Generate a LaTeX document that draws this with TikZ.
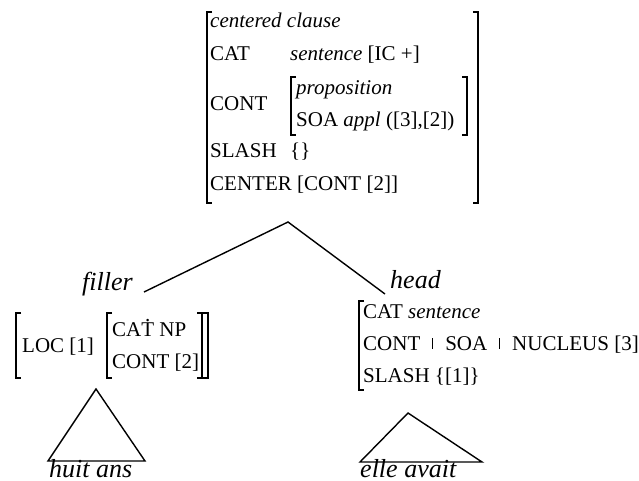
\documentclass[tikz,border=0pt]{standalone}
\usepackage{fontspec}
\setmainfont{Liberation Serif}
\newcommand{\LBr}[3]{\draw[brk] (#1+5,#2) -- (#1,#2) -- (#1,#3) -- (#1+5,#3);}
\newcommand{\RBr}[3]{\draw[brk] (#1-5,#2) -- (#1,#2) -- (#1,#3) -- (#1-5,#3);}
\newcommand{\pathbar}{\hspace{12pt}\raisebox{1.5pt}{\rule{0.9pt}{11pt}}\hspace{12pt}}
\newcommand{\dotT}{\ooalign{T\cr\hidewidth\raisebox{0.7em}{.}\hidewidth\cr}}
\tikzset{
  avm/.style={anchor=base west, inner sep=0pt, font=\fontsize{21}{25}\selectfont},
  lbl/.style={anchor=base west, inner sep=0pt, font=\fontsize{26}{30}\selectfont\itshape},
  brk/.style={line width=1.2pt},
  edge/.style={line width=1.4pt, line join=miter},
}
\begin{document}
\begin{tikzpicture}[x=1pt,y=-1pt]
\useasboundingbox (0,0) rectangle (639,481);
% top AVM
\node[avm] (cc) at (210,28) {\itshape centered clause};
\node[avm] (catl) at (210,61) {CAT};
\node[avm] (catv) at (290,61) {\textit{sentence} [IC +]};
\node[avm] (contl) at (210,111) {CONT};
\node[avm] (prop) at (296,95) {\itshape proposition};
\node[avm] (soa) at (296,127) {SOA \textit{appl} ([3],[2])};
\node[avm] (slash) at (210,158) {SLASH};
\node[avm] (slv) at (290,158) {\{\}};
\node[avm] (center) at (210,190) {CENTER [CONT [2]]};
\LBr{207}{12}{203}
\RBr{478}{12}{203}
\LBr{291}{77}{135}
\RBr{467}{77}{135}
% tree
\coordinate (apex) at (288,222);
\coordinate (fl) at (144,292);
\coordinate (hd) at (385,294);
\draw[edge] (fl) -- (apex) -- (hd);
\node[lbl] (filler) at (82,290) {filler};
\node[lbl] (head) at (390,288) {head};
% left AVM
\node[avm] (loc) at (22,352) {LOC [1]};
\node[avm] (catnp) at (112,336) {CA\dotT{} NP};
\node[avm] (cont2) at (112,368) {CONT [2]};
\LBr{16}{313}{378}
\LBr{107}{313}{378}
\RBr{202}{313}{378}
\RBr{208}{313}{378}
% right AVM
\node[avm] (rcat) at (363,318) {CAT \textit{sentence}};
\node[avm] (rcont) at (363,350) {CONT\pathbar SOA\pathbar NUCLEUS [3]};
\node[avm] (rslash) at (363,382) {SLASH \{[1]\}};
\LBr{359}{301}{390}
% triangles
\draw[edge] (48,461) -- (96,389) -- (145,461) -- cycle;
\node[lbl] (huit) at (49,477) {huit ans};
\draw[edge] (360,462) -- (408,413) -- (482,462) -- cycle;
\node[lbl] (elle) at (360,477) {elle avait};
\end{tikzpicture}
\end{document}
